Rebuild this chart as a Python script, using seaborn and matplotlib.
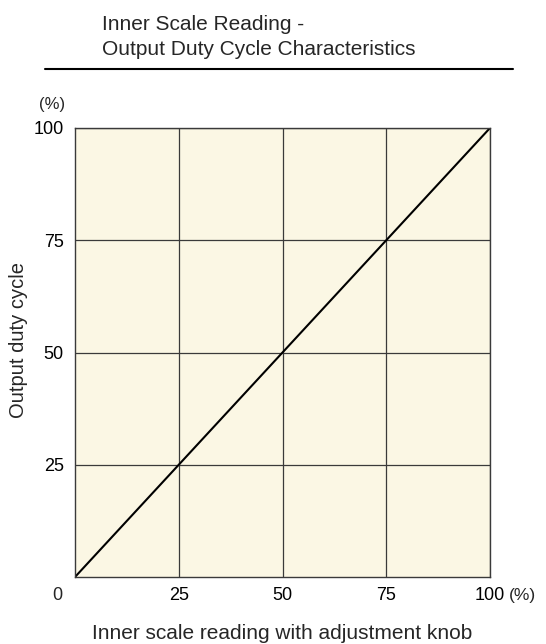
import matplotlib
matplotlib.use("Agg")
import matplotlib.pyplot as plt
import pandas as pd
import seaborn as sns

# inner scale reading vs output duty cycle (%)
scale_reading = [0, 25, 50, 75, 100]
duty_cycle = [0, 25, 50, 75, 100]
ticks = [25, 50, 75, 100]
tick_labels = ["25", "50", "75", "100"]

title_lines = ["Inner Scale Reading -", "Output Duty Cycle Characteristics"]
xlabel = "Inner scale reading with adjustment knob"
ylabel = "Output duty cycle"

W, H = 546, 644

sns.set_style("white")
plt.rcParams['font.family'] = ['Liberation Sans', 'DejaVu Sans']

fig = plt.figure(figsize=(W / 100, H / 100), dpi=100)
ax = fig.add_axes([75 / W, (H - 577) / H, 415 / W, 449 / H])
ax.set_facecolor("#fbf7e4")

df = pd.DataFrame({"reading": scale_reading, "duty": duty_cycle})
sns.lineplot(data=df, x="reading", y="duty", color="black", linewidth=1.5, ax=ax)

ax.set_xlim(0, 100)
ax.set_ylim(0, 100)
ax.set_xticks(ticks)
ax.set_yticks(ticks)
ax.set_xticklabels(tick_labels)
ax.set_yticklabels(tick_labels)
ax.grid(True, color="#3a3a3a", linewidth=0.9)
ax.tick_params(axis="both", length=0, labelsize=13, colors="black")
ax.tick_params(axis="x", pad=7.5)
ax.tick_params(axis="y", pad=8)
for sp in ax.spines.values():
    sp.set_color("#3a3a3a")
    sp.set_linewidth(1.0)

ax.set_xlabel(xlabel, fontsize=15, va="baseline")
ax.xaxis.set_label_coords(282 / W, 1 - 639 / H, transform=fig.transFigure)
ax.set_ylabel(ylabel, fontsize=14.5, va="center")
ax.yaxis.set_label_coords(19 / W, 1 - 340 / H, transform=fig.transFigure)

# corner zero and units
ax.text(-13 / 415, -10 / 449, "0", transform=ax.transAxes, fontsize=13,
        ha="right", va="top")
ax.text(-10 / 415, 1 + 16 / 449, "(%)", transform=ax.transAxes, fontsize=12,
        ha="right", va="bottom")
ax.text(1 + 19 / 415, -11 / 449, "(%)", transform=ax.transAxes, fontsize=12.5,
        ha="left", va="top")

fig.text(102 / W, 1 - 30 / H, title_lines[0], fontsize=15, ha="left", va="baseline")
fig.text(102 / W, 1 - 55 / H, title_lines[1], fontsize=15, ha="left", va="baseline")
fig.add_artist(plt.Line2D([45 / W, 513 / W], [1 - 68.5 / H, 1 - 68.5 / H],
                          color="black", linewidth=1.5))

fig.savefig("out.png", dpi=100)
